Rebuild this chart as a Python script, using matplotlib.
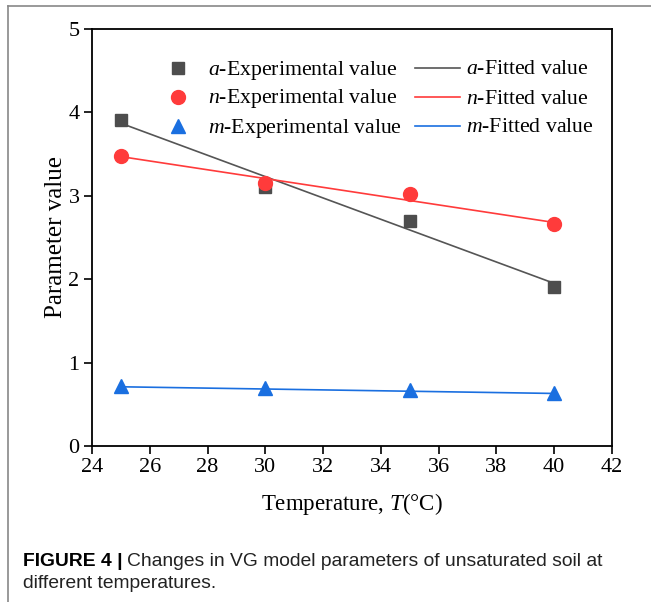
import matplotlib.pyplot as plt
from matplotlib.lines import Line2D

plt.rcParams['font.family'] = ['Liberation Serif', 'DejaVu Serif']
plt.rcParams['mathtext.fontset'] = 'custom'
plt.rcParams['mathtext.it'] = 'Liberation Serif:italic'
plt.rcParams['mathtext.rm'] = 'Liberation Serif'

# temperatures (deg C) and VG parameters
temperature = [25, 30, 35, 40]
a_exp = [3.91, 3.11, 2.70, 1.91]
n_exp = [3.48, 3.15, 3.02, 2.66]
m_exp = [0.72, 0.69, 0.67, 0.63]

# fitted lines (end points)
fit_T = [25, 40]
a_fit = [3.87, 1.95]
n_fit = [3.47, 2.68]
m_fit = [0.71, 0.63]

c_a, c_n, c_m = '#4d4d4d', '#ff3b3b', '#1a6fe0'
c_a_line = '#555555'

fig = plt.figure(figsize=(6.51, 6.02), dpi=100)
ax = fig.add_axes([92 / 651, 1 - 446 / 602, 520 / 651, 417 / 602])

ax.plot(fit_T, a_fit, color=c_a_line, lw=1.2, zorder=2)
ax.plot(fit_T, n_fit, color=c_n, lw=1.2, zorder=2)
ax.plot(fit_T, m_fit, color=c_m, lw=1.2, zorder=2)
ax.plot(temperature, a_exp, 's', color=c_a, ms=9, ls='none', zorder=3)
ax.plot(temperature, n_exp, 'o', color=c_n, ms=10, ls='none', zorder=3)
ax.plot(temperature, m_exp, '^', color=c_m, ms=10, ls='none', zorder=3)

ax.set_xlim(24, 42)
ax.set_ylim(0, 5)
ax.set_xticks(range(24, 43, 2))
ax.set_yticks(range(0, 6))
ax.tick_params(direction='out', length=6, width=1.2, labelsize=16,
               top=False, right=False, pad=3)
for s in ax.spines.values():
    s.set_linewidth(1.3)

ax.set_xlabel(r'Temperature, $\it{T}$(°C)', fontsize=16.5, labelpad=10)
ax.set_ylabel('Parameter value', fontsize=18, labelpad=1)

# legend, laid out by hand in two columns
def px(x, y):
    return (x - 92) / 520, (446 - y) / 417

rows = [68, 97, 126]
exp_style = [('s', c_a, 9), ('o', c_n, 10), ('^', c_m, 10)]
exp_labels = [r'$\it{a}$-Experimental value', r'$\it{n}$-Experimental value',
              r'$\it{m}$-Experimental value']
fit_colors = [c_a_line, c_n, c_m]
fit_labels = [r'$\it{a}$-Fitted value', r'$\it{n}$-Fitted value',
              r'$\it{m}$-Fitted value']
for y, (mk, col, ms), lab, fcol, flab in zip(rows, exp_style, exp_labels,
                                             fit_colors, fit_labels):
    mx, my = px(178, y)
    ax.plot([mx], [my], mk, color=col, ms=ms, transform=ax.transAxes, clip_on=False)
    tx, ty = px(208, y + 2)
    ax.text(tx, ty, lab, transform=ax.transAxes, fontsize=15.7, va='center')
    x0, ly = px(415, y)
    x1, _ = px(460, y)
    ax.plot([x0, x1], [ly, ly], color=fcol, lw=1.2, transform=ax.transAxes)
    tx, _ = px(466, y)
    ax.text(tx, ty, flab, transform=ax.transAxes, fontsize=15.7, va='center')

# panel border
fig.add_artist(Line2D([8 / 651, 1], [1 - 6 / 602] * 2, color='#888888', lw=1.2))
fig.add_artist(Line2D([8 / 651] * 2, [0, 1 - 6 / 602], color='#888888', lw=1.2))

# caption
cap_y1 = 1 - 561 / 602
cap_y2 = 1 - 584 / 602
t = fig.text(23 / 651, cap_y1, 'FIGURE 4 |', family='Liberation Sans',
             weight='bold', fontsize=13.9, va='center')
fig.canvas.draw()
bb = t.get_window_extent()
fig.text((bb.x1 + 4) / 651, cap_y1,
         'Changes in VG model parameters of unsaturated soil at',
         family='Liberation Sans', fontsize=13.9, va='center', color='#222222')
fig.text(23 / 651, cap_y2, 'different temperatures.',
         family='Liberation Sans', fontsize=13.9, va='center', color='#222222')

fig.savefig('out.png', dpi=100)
